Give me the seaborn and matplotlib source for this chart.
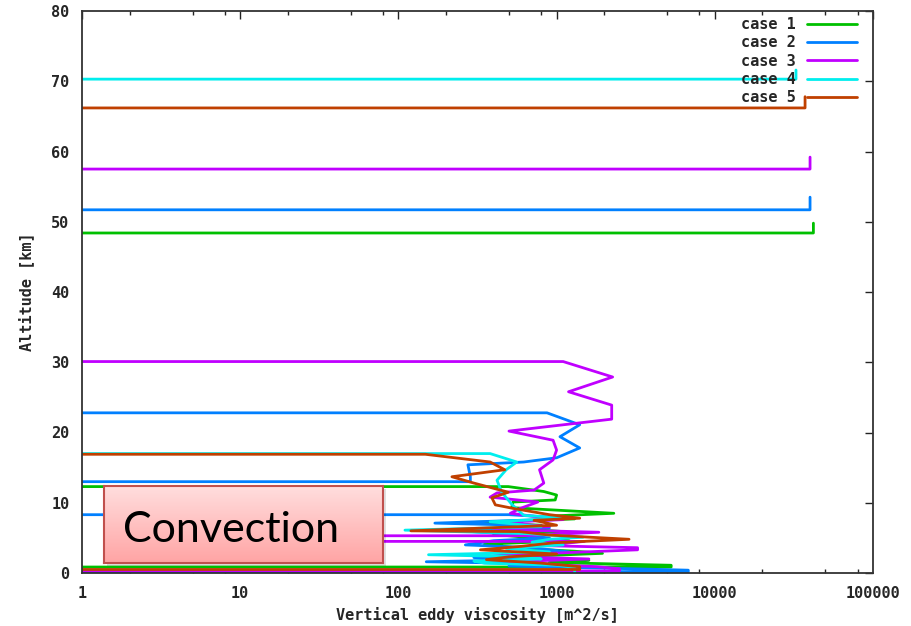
import numpy as np
import pandas as pd
import seaborn as sns
import matplotlib
matplotlib.use("Agg")
import matplotlib.pyplot as plt
from matplotlib.lines import Line2D
from matplotlib.ticker import LogLocator, FixedLocator, FixedFormatter, NullFormatter
from matplotlib.patches import FancyBboxPatch

# Off-scale value used where the viscosity drops below the plotted range
LOW = 0.1

case_labels = ["case 1", "case 2", "case 3", "case 4", "case 5"]
case_colors = ["#00c000", "#0080ff", "#c000ff", "#00eeee", "#c04000"]

alt_case1 = [49.8, 48.4, 48.4, 12.3, 12.3, 11.6, 11.1, 10.4, 10.1, 9.3, 8.5, 8.1, 7.7, 7.2,
             6.8, 6.4, 5.9, 5.5, 5.0, 4.6, 4.1, 3.5, 3.1, 2.8, 2.4, 2.2, 1.8, 1.5, 1.1,
             0.85, 0.85, 0.0]
visc_case1 = [42000, 42000, LOW, LOW, 495, 830, 1000, 980, 530, 520, 2300, 900, 1300, 300,
              800, 500, 1100, 400, 700, 1200, 350, 600, 1300, 1950, 700, 450, 1600, 900, 5300,
              5300, LOW, LOW]

alt_case2 = [53.5, 51.7, 51.7, 22.8, 22.8, 21.1, 19.4, 17.8, 16.4, 15.8, 15.4, 13.7, 13.0, 13.0,
             8.3, 8.3, 7.9, 7.6, 7.1, 6.8, 6.4, 6.0, 5.6, 5.0, 4.6, 4.0, 3.6, 3.0, 2.6, 2.2,
             1.9, 1.6, 1.3, 1.0, 0.6, 0.4, 0.2, 0.2, 0.0]
visc_case2 = [40000, 40000, LOW, LOW, 870, 1400, 1050, 1400, 1000, 620, 275, 285, 285, LOW,
              LOW, 500, 1000, 800, 170, 600, 900, 250, 450, 900, 400, 265, 700, 1200, 500, 300,
              700, 150, 900, 500, 3000, 6800, 6800, LOW, LOW]

alt_case3 = [59.2, 57.5, 57.5, 30.1, 30.1, 27.9, 25.8, 23.9, 21.9, 20.2, 18.9, 17.5, 16.1, 14.7,
             12.8, 11.8, 11.4, 10.8, 10.1, 9.2, 8.5, 8.0, 7.6, 7.2, 6.6, 6.2, 5.8, 5.3, 5.3,
             4.5, 4.5, 3.9, 3.6, 3.3, 2.8, 2.4, 2.0, 1.6, 1.3, 0.9, 0.6, 0.3, 0.3, 0.0]
visc_case3 = [40000, 40000, LOW, LOW, 1100, 2260, 1190, 2230, 2230, 500, 950, 1000, 950, 780,
              830, 720, 420, 380, 760, 590, 510, 760, 1100, 450, 900, 400, 1850, 600, 20,
              20, 1500, 800, 3250, 3250, 900, 400, 1600, 500, 700, 1800, 2500, 2500, LOW, LOW]

alt_case4 = [71.6, 70.3, 70.3, 17.0, 17.0, 15.8, 14.7, 13.2, 11.5, 9.8, 8.2, 7.8, 7.3, 6.6,
             6.1, 5.6, 5.1, 4.8, 4.4, 4.0, 3.5, 3.0, 2.6, 2.3, 2.0, 1.7, 1.4, 1.1, 0.8, 0.4,
             0.0]
visc_case4 = [32600, 32600, LOW, LOW, 380, 560, 480, 420, 450, 520, 620, 1200, 380, 800,
              110, 650, 1470, 900, 700, 1100, 480, 900, 155, 600, 800, 300, 350, 1000, 1300,
              1300, 1300]

alt_case5 = [67.8, 66.2, 66.2, 16.9, 16.9, 15.8, 14.7, 13.7, 12.8, 11.5, 10.7, 9.7, 9.2, 8.3,
             7.8, 7.5, 6.8, 6.0, 5.9, 5.4, 4.8, 4.3, 3.8, 3.3, 2.7, 2.3, 1.9, 1.4, 0.9, 0.5,
             0.5, 0.0]
visc_case5 = [37200, 37200, LOW, LOW, 148, 380, 470, 218, 300, 495, 390, 410, 530, 900,
              1400, 720, 1000, 120, 580, 900, 2870, 960, 600, 330, 1000, 500, 360, 800, 1400,
              1400, LOW, LOW]

x_ticks = [1, 10, 100, 1000, 10000, 100000]
x_tick_labels = ["1", "10", "100", "1000", "10000", "100000"]
y_ticks = [0, 10, 20, 30, 40, 50, 60, 70, 80]

alts = [alt_case1, alt_case2, alt_case3, alt_case4, alt_case5]
viscs = [visc_case1, visc_case2, visc_case3, visc_case4, visc_case5]
frames = []
for lab, a, v in zip(case_labels, alts, viscs):
    frames.append(pd.DataFrame({"case": lab, "alt": a, "visc": v}))
df = pd.concat(frames, ignore_index=True)

sns.set_style("white")
plt.rcParams["font.family"] = ["DejaVu Sans Mono"]
plt.rcParams["font.weight"] = "bold"

fig = plt.figure(figsize=(9.11, 6.26), dpi=100)
ax = fig.add_axes([82 / 911, 1 - 573 / 626, (873 - 82) / 911, (573 - 11) / 626])

sns.lineplot(data=df, x="visc", y="alt", hue="case", palette=case_colors,
             sort=False, estimator=None, orient="y", linewidth=2.0,
             legend=False, ax=ax)

ax.set_xscale("log")
ax.set_xlim(1, 100000)
ax.set_ylim(0, 80)

ax.xaxis.set_major_locator(FixedLocator(x_ticks))
ax.xaxis.set_major_formatter(FixedFormatter(x_tick_labels))
ax.xaxis.set_minor_locator(LogLocator(base=10, subs=(2.0, 5.0, 8.0)))
ax.xaxis.set_minor_formatter(NullFormatter())
ax.set_yticks(y_ticks)

ax.tick_params(axis="both", which="major", direction="in", length=6, width=1.0,
               top=True, right=True, labelsize=11, pad=9, color="#222222")
ax.tick_params(axis="x", which="minor", direction="in", length=3, width=1.0,
               top=True, bottom=True, color="#222222")
for sp in ax.spines.values():
    sp.set_color("#333333")
    sp.set_linewidth(1.3)

ax.set_xlabel("Vertical eddy viscosity [m^2/s]", fontsize=11, fontweight="bold", labelpad=5)
ax.set_ylabel("Altitude [km]", fontsize=11, fontweight="bold", labelpad=12)

handles = [Line2D([], [], color=c, lw=2.0) for c in case_colors]
ax.legend(handles, case_labels, loc="upper right", frameon=False, markerfirst=False,
          bbox_to_anchor=((857 - 82) / 791, 1 - 6 / 562), borderaxespad=0, borderpad=0,
          handlelength=3.3, handletextpad=0.7, labelspacing=0.22,
          prop={"family": "DejaVu Sans Mono", "weight": "bold", "size": 11})

# Annotation box for the convective layer
bx0, by0 = 104 / 911, 1 - 563 / 626
bw, bh = 279 / 911, 77 / 626
shadow = FancyBboxPatch((bx0 + 0.003, by0 - 0.005), bw, bh, boxstyle="square,pad=0",
                        transform=fig.transFigure, facecolor="#000000", alpha=0.12,
                        edgecolor="none", zorder=5)
fig.patches.append(shadow)
bax = fig.add_axes([bx0, by0, bw, bh], zorder=6)
grad = np.linspace(0, 1, 256)[:, None]
cmap = matplotlib.colors.LinearSegmentedColormap.from_list("pink", ["#ffdede", "#ffa4a4"])
bax.imshow(grad, aspect="auto", cmap=cmap, extent=(0, 1, 0, 1), origin="upper")
bax.set_xlim(0, 1)
bax.set_ylim(0, 1)
bax.set_xticks([])
bax.set_yticks([])
for sp in bax.spines.values():
    sp.set_color("#c0504d")
    sp.set_linewidth(1.5)
bax.text(0.068, 0.27, "Convection", family="Lato", fontweight="normal",
         fontsize=31, color="black", ha="left", va="baseline")

fig.savefig("out.png", dpi=100)
